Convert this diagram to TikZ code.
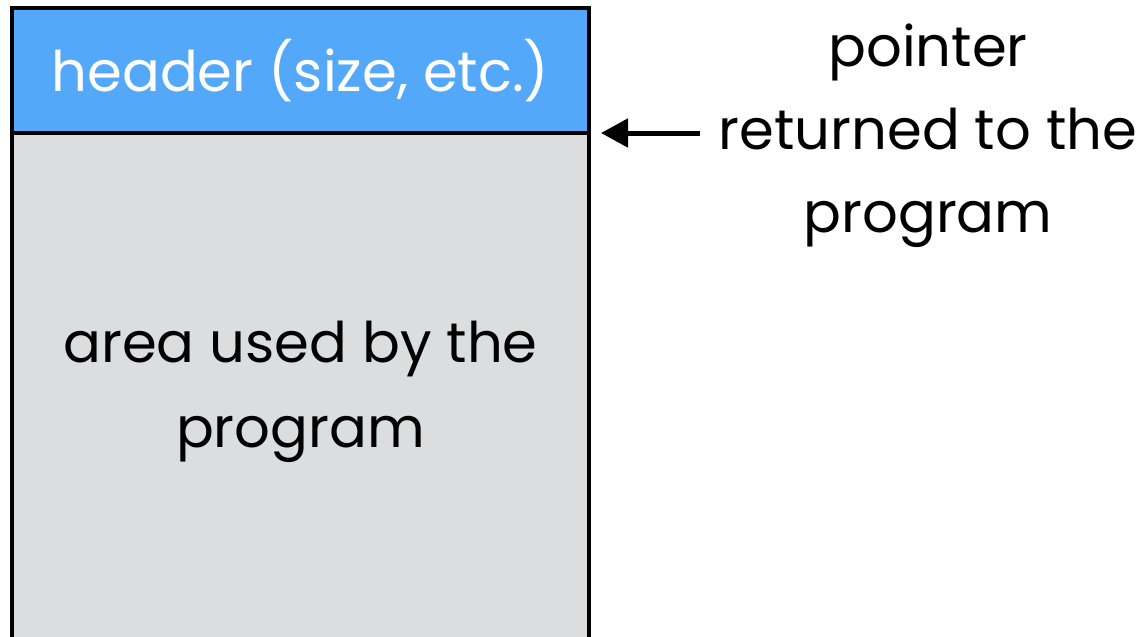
\documentclass[tikz,border=0pt]{standalone}
\usepackage{fontspec}
\setmainfont{Poppins}
\usetikzlibrary{positioning, arrows.meta}
\definecolor{hdrblue}{HTML}{53A8F9}
\definecolor{areagray}{HTML}{DCDDDF}

\begin{document}
\begin{tikzpicture}[x=0.5pt, y=-0.5pt,
    blockbox/.style={draw, line width=2pt, inner sep=0pt, outer sep=0pt,
        minimum width=288.5pt, align=center, font=\fontsize{28}{42.5}\selectfont},
    ptrtext/.style={align=center, font=\fontsize{28}{41.5}\selectfont},
    ptrarrow/.style={line width=2.5pt, -{Triangle[length=13.5pt, width=14pt]}}]

    \useasboundingbox (0,0) rectangle (1146,637);
    \clip (0,0) rectangle (1146,637);

    % chunk header and the part handed out
    \node[blockbox, fill=hdrblue, text=white, minimum height=62.5pt, anchor=north west]
        (header) at (12,8) {header (size, etc.)};
    \node[blockbox, fill=areagray, minimum height=259pt, below=0pt of header]
        (area) {area used by the\\program};

    % returned pointer
    \node[ptrtext] (ptr) at (928,136) {pointer\\returned to the\\program};
    \coordinate (tail) at (700,133);
    \coordinate (tip) at (601,133);
    \draw[ptrarrow] (tail) -- (tip);

\end{tikzpicture}
\end{document}
